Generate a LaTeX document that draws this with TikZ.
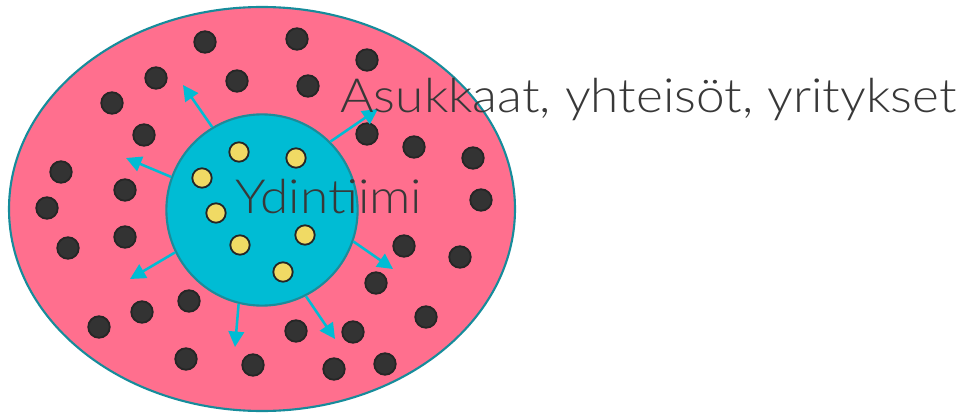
\documentclass[tikz,border=0pt]{standalone}
\usepackage{fontspec}
\setmainfont{Lato}[UprightFont=* Light]
\newfontfamily\labelfont{Lato}[UprightFont=* Light, FakeStretch=1.09]
\usetikzlibrary{arrows.meta}
\definecolor{ringpink}{HTML}{FF6F8E}
\definecolor{ringedge}{HTML}{168C9B}
\definecolor{corecyan}{HTML}{00BCD4}
\definecolor{coreedge}{HTML}{1B8C9A}
\definecolor{darkdot}{HTML}{333333}
\definecolor{dotyellow}{HTML}{F0DA64}
\definecolor{labelgray}{HTML}{383838}

\begin{document}
\begin{tikzpicture}[x=0.025cm, y=-0.025cm,
    member/.style={circle, draw=black!85, line width=1.3pt, fill=darkdot,
                   minimum size=15.3pt, inner sep=0pt},
    coremember/.style={circle, draw=black!85, line width=1.3pt, fill=dotyellow,
                   minimum size=13.8pt, inner sep=0pt},
    spread/.style={draw=corecyan, line width=1.8pt,
                   -{Triangle[length=11pt, width=11pt]}},
    biglabel/.style={text=labelgray, font=\labelfont\fontsize{33.5}{36}\selectfont,
                   inner sep=0pt, anchor=base west}]
    \useasboundingbox (0,0) rectangle (961,414);

    % community
    \draw[fill=ringpink, draw=ringedge, line width=1.5pt]
        (262,209) ellipse [x radius=253, y radius=202];
    \foreach \x/\y [count=\i] in {205/42, 297/39, 367/60, 156/78, 237/81,
        308/86, 112/103, 144/135, 367/134, 414/147, 473/158, 61/172, 125/190,
        481/200, 47/208, 125/237, 68/248, 404/246, 460/257, 376/283, 189/301,
        142/312, 99/327, 296/331, 353/332, 426/317, 186/359, 253/365,
        334/369, 385/364}
        \node[member] (m\i) at (\x,\y) {};

    % core team
    \node[circle, fill=corecyan, draw=coreedge, line width=1.5pt,
          minimum size=136pt, inner sep=0pt] (core) at (262,210) {};
    \foreach \x/\y [count=\i] in {239/152, 296/158, 202/178, 216/213,
        240/245, 305/235, 283/272}
        \node[coremember] (c\i) at (\x,\y) {};

    % arrows out of the core
    \foreach \a/\x/\y [count=\i] in {121/183/85, 160/126/158, 206/130/279,
        256/235/347, 297/335/339, 341/393/269, 45/378/109} {
        \coordinate (t\i) at (\x,\y);
        \draw[spread] (core.\a) -- (t\i);
    }

    \node[biglabel] (team) at (235,213) {Ydintiimi};
    \node[biglabel] (people) at (340,112) {Asukkaat, yhteisöt, yritykset};
\end{tikzpicture}
\end{document}
